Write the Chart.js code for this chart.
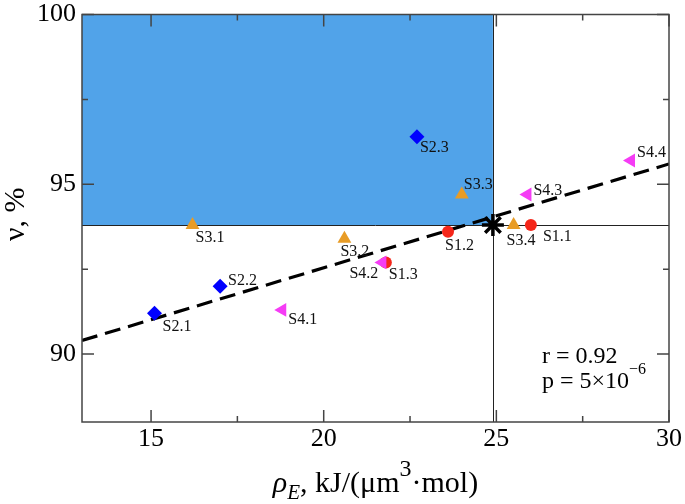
<!DOCTYPE html>
<html>
<head>
<meta charset="utf-8">
<script src="https://cdn.jsdelivr.net/npm/chart.js@4.4.0/dist/chart.umd.min.js"></script>
<style>
  html, body { margin: 0; padding: 0; background: #ffffff; }
  #wrap { width: 685px; height: 504px; }
</style>
</head>
<body>
<div id="wrap"><canvas id="c" width="685" height="504"></canvas></div>
<script>
// ---- data ----
const xMin = 13, xMax = 30, yMin = 88, yMax = 100;
const xTickLabels = [15, 20, 25, 30];
const yTickLabels = [90, 95, 100];
const xMinorTicks = [17.5, 22.5, 27.5];
const yMinorTicks = [92.5, 97.5];

const s1Labels = ['S1.1', 'S1.2', 'S1.3'];
const s1X = [26.0, 23.6, 21.8];
const s1Y = [93.8, 93.6, 92.7];

const s2Labels = ['S2.1', 'S2.2', 'S2.3'];
const s2X = [15.1, 17.0, 22.7];
const s2Y = [91.2, 92.0, 96.4];

const s3Labels = ['S3.1', 'S3.2', 'S3.3', 'S3.4'];
const s3X = [16.2, 20.6, 24.0, 25.5];
const s3Y = [93.8, 93.4, 94.7, 93.8];

const s4Labels = ['S4.1', 'S4.2', 'S4.3', 'S4.4'];
const s4X = [18.8, 21.7, 25.9, 28.9];
const s4Y = [91.3, 92.7, 94.7, 95.7];

const meanX = 24.9, meanY = 93.8;           // threshold / mean point
const fitX = [13, 30];
const fitY = [90.4, 95.6];

const statR = '0.92';
const statP = '5×10';
const statPExp = '−6';

// label offsets in pixels (style, not data)
const labelOffsets = {
  'S1.1': [12, 12], 'S1.2': [-3, 14], 'S1.3': [3, 12],
  'S2.1': [8, 13], 'S2.2': [8, -5], 'S2.3': [3, 11],
  'S3.1': [3, 13], 'S3.2': [-4, 13], 'S3.3': [2, -10], 'S3.4': [-7, 16],
  'S4.1': [6, 10], 'S4.2': [-33, 11], 'S4.3': [6, -4], 'S4.4': [6, -8]
};

const pts = (xs, ys, ls) => xs.map((x, i) => ({ x: x, y: ys[i], label: ls ? ls[i] : '' }));

const SERIF = "'Liberation Serif', 'Times New Roman', serif";
const FRAME = '#444444';
const crisp = v => Math.round(v) + 0.5;

const regionPlugin = {
  id: 'region',
  beforeDatasetsDraw(chart) {
    const { ctx, chartArea: a, scales: { x, y } } = chart;
    const px = x.getPixelForValue(meanX), py = y.getPixelForValue(meanY);
    ctx.save();
    ctx.fillStyle = '#51a3e9';
    ctx.fillRect(x.getPixelForValue(xMin), y.getPixelForValue(yMax),
                 px - x.getPixelForValue(xMin), py - y.getPixelForValue(yMax));
    ctx.strokeStyle = '#222222';
    ctx.lineWidth = 1;
    ctx.beginPath();
    ctx.moveTo(a.left, crisp(py)); ctx.lineTo(a.right, crisp(py));
    ctx.moveTo(crisp(px), a.top); ctx.lineTo(crisp(px), a.bottom);
    ctx.stroke();
    ctx.restore();
  },
  afterDatasetsDraw(chart) {
    const { ctx, chartArea: a, scales: { x, y } } = chart;
    ctx.save();
    // point labels
    ctx.font = '16px ' + SERIF;
    ctx.fillStyle = '#111111';
    ctx.textBaseline = 'middle';
    ctx.textAlign = 'left';
    chart.data.datasets.forEach((ds, di) => {
      if (!ds.showLabels) return;
      const meta = chart.getDatasetMeta(di);
      ds.data.forEach((p, i) => {
        const el = meta.data[i];
        const off = labelOffsets[p.label] || [6, 10];
        ctx.fillText(p.label, el.x + off[0], el.y + off[1]);
      });
    });
    // frame and inward ticks
    ctx.strokeStyle = FRAME;
    ctx.lineWidth = 1.5;
    ctx.beginPath();
    const major = 12, minor = 6;
    xTickLabels.forEach(v => { const p = x.getPixelForValue(v);
      ctx.moveTo(p, a.bottom); ctx.lineTo(p, a.bottom - major);
      ctx.moveTo(p, a.top); ctx.lineTo(p, a.top + major); });
    xMinorTicks.forEach(v => { const p = x.getPixelForValue(v);
      ctx.moveTo(p, a.bottom); ctx.lineTo(p, a.bottom - minor);
      ctx.moveTo(p, a.top); ctx.lineTo(p, a.top + minor); });
    yTickLabels.forEach(v => { const p = y.getPixelForValue(v);
      ctx.moveTo(a.left, p); ctx.lineTo(a.left + major, p);
      ctx.moveTo(a.right, p); ctx.lineTo(a.right - major, p); });
    yMinorTicks.forEach(v => { const p = y.getPixelForValue(v);
      ctx.moveTo(a.left, p); ctx.lineTo(a.left + minor, p);
      ctx.moveTo(a.right, p); ctx.lineTo(a.right - minor, p); });
    ctx.stroke();
    ctx.strokeRect(a.left, a.top, a.right - a.left, a.bottom - a.top);

    // statistics text
    ctx.fillStyle = '#000000';
    ctx.textBaseline = 'alphabetic';
    ctx.font = '24px ' + SERIF;
    ctx.fillText('r = ' + statR, 542, 363);
    const pText = 'p = ' + statP;
    ctx.fillText(pText, 542, 388);
    const w = ctx.measureText(pText).width;
    ctx.font = '16px ' + SERIF;
    ctx.fillText(statPExp, 542 + w, 374);

    // axis titles
    const ty = 492;
    const parts = [
      { t: 'ρ', f: 'italic 30px ' + SERIF, dy: 0 },
      { t: 'E', f: 'italic 21px ' + SERIF, dy: 7 },
      { t: ', kJ/(μm', f: '30px ' + SERIF, dy: 0 },
      { t: '3', f: '24px ' + SERIF, dy: -16 },
      { t: '·mol)', f: '30px ' + SERIF, dy: 0 }
    ];
    let total = 0;
    parts.forEach(p => { ctx.font = p.f; p.w = ctx.measureText(p.t).width; total += p.w; });
    let cx = (a.left + a.right) / 2 - total / 2;
    parts.forEach(p => { ctx.font = p.f; ctx.fillText(p.t, cx, ty + p.dy); cx += p.w; });

    ctx.save();
    ctx.translate(24, (a.top + a.bottom) / 2 - 4);
    ctx.rotate(-Math.PI / 2);
    ctx.font = '30px ' + SERIF;
    ctx.textAlign = 'center';
    ctx.fillText('ν, %', 0, 0);
    ctx.restore();
    ctx.restore();
  }
};

new Chart(document.getElementById('c'), {
  type: 'scatter',
  data: {
    datasets: [
      { type: 'line', data: pts(fitX, fitY), borderColor: '#000000', borderWidth: 3.2,
        borderDash: [16, 8], pointRadius: 0, fill: false, order: 5 },
      { data: pts(s2X, s2Y, s2Labels), pointStyle: 'rectRot', radius: 7.5,
        backgroundColor: '#0000ff', borderColor: '#0000ff', borderWidth: 0, showLabels: true, order: 4 },
      { data: pts(s3X, s3Y, s3Labels), pointStyle: 'triangle', radius: 8,
        backgroundColor: '#e89c26', borderColor: '#e89c26', borderWidth: 0, showLabels: true, order: 3 },
      { data: pts(s1X, s1Y, s1Labels), pointStyle: 'circle', radius: 6,
        backgroundColor: '#f5261a', borderColor: '#f5261a', borderWidth: 0, showLabels: true, order: 2 },
      { data: pts(s4X, s4Y, s4Labels), pointStyle: 'triangle', rotation: -90, radius: 8,
        backgroundColor: '#f53cf5', borderColor: '#f53cf5', borderWidth: 0, showLabels: true, order: 1 },
      { data: pts([meanX], [meanY]), pointStyle: 'star', radius: 11,
        backgroundColor: '#000000', borderColor: '#000000', borderWidth: 3.5, order: 0 }
    ]
  },
  options: {
    responsive: false,
    animation: false,
    events: [],
    layout: { padding: { top: 11, right: 16, left: 0, bottom: 0 } },
    plugins: { legend: { display: false }, tooltip: { enabled: false } },
    scales: {
      x: {
        type: 'linear', min: xMin, max: xMax,
        grid: { display: false, drawTicks: false },
        border: { display: false },
        afterBuildTicks: s => { s.ticks = xTickLabels.map(v => ({ value: v })); },
        afterFit: s => { s.height = 82; s.paddingLeft = 0; s.paddingRight = 0; },
        ticks: { font: { family: SERIF, size: 26 }, color: '#000000', padding: 2, maxRotation: 0 }
      },
      y: {
        type: 'linear', min: yMin, max: yMax,
        grid: { display: false, drawTicks: false },
        border: { display: false },
        afterBuildTicks: s => { s.ticks = yTickLabels.map(v => ({ value: v })); },
        afterFit: s => { s.width = 82; s.paddingTop = 0; s.paddingBottom = 0; },
        ticks: { font: { family: SERIF, size: 26 }, color: '#000000', padding: 6 }
      }
    }
  },
  plugins: [regionPlugin]
});
</script>
</body>
</html>
